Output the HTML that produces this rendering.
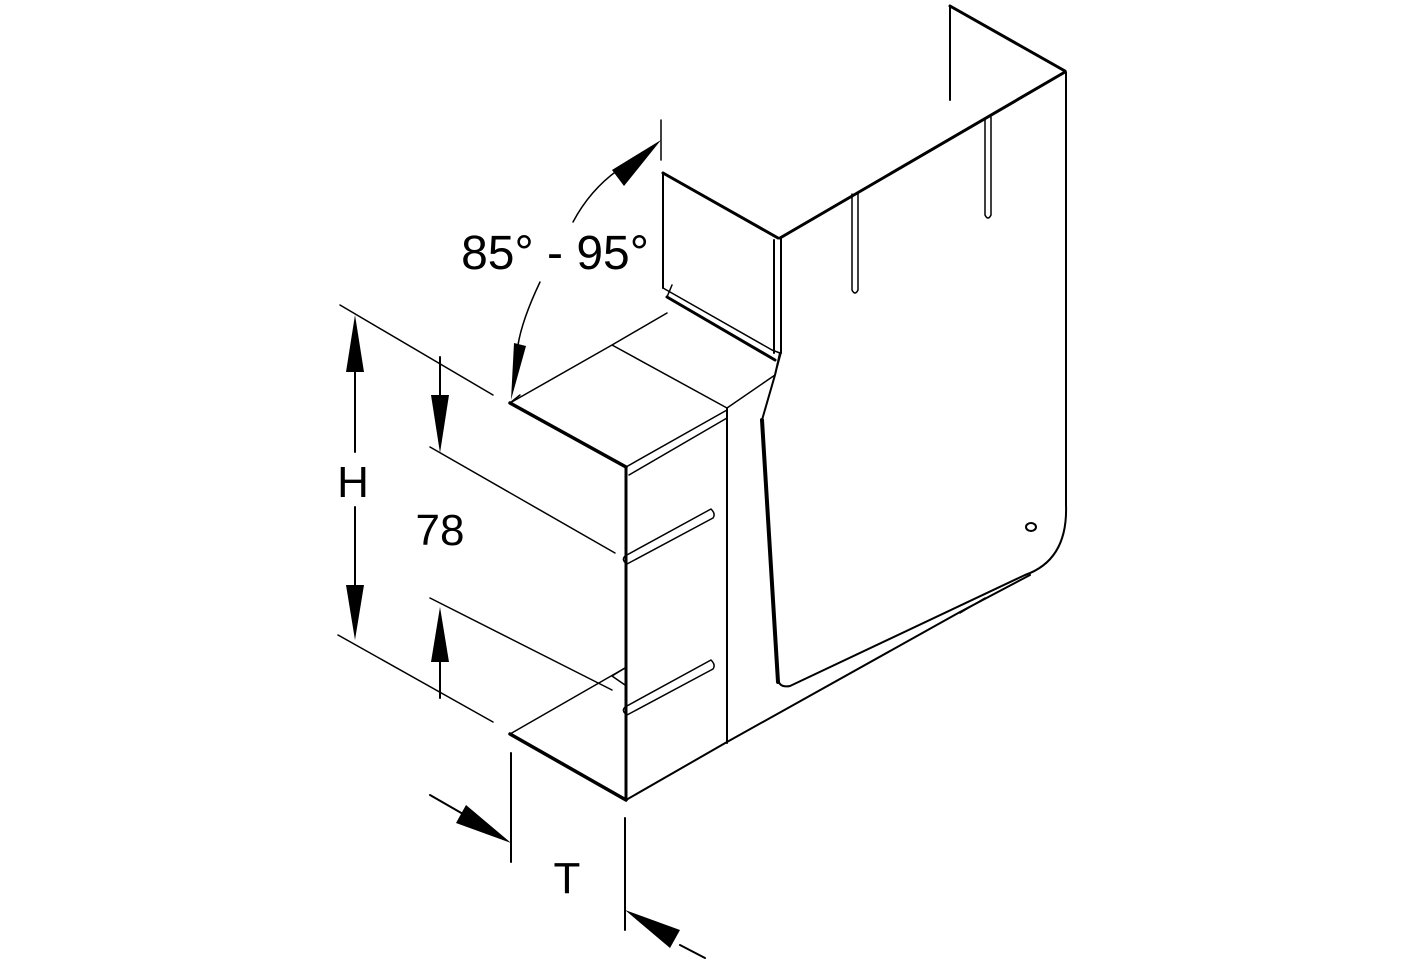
<!DOCTYPE html>
<html><head><meta charset="utf-8"><style>
html,body{margin:0;padding:0;background:#fff;}
svg{display:block;}
text{font-family:"Liberation Sans",sans-serif;fill:#000;}
</style></head><body>
<svg width="1417" height="964" viewBox="0 0 1417 964" xmlns="http://www.w3.org/2000/svg">
<g fill="none" stroke="#000" stroke-linejoin="round" stroke-linecap="round">
<path d="M950,6 L950,100" stroke-width="2"/>
<path d="M950,6 L1065,71" stroke-width="3"/>
<path d="M780,238 L1065,72" stroke-width="3"/>
<path d="M1066,72 L1066,505 Q1068,560 1025,575 L790,686 Q780,688 778,680 L762,420 L775,375 L780,353" stroke-width="2"/>
<path d="M762,420 L778,682" stroke-width="4"/>
<path d="M727,742 L960,612 L1030,575" stroke-width="2"/>
<path d="M960,613 L985,598" stroke-width="1.5"/>
<path d="M852,194 L852,290 Q855,296 858,290 L858,192" stroke-width="1.5"/>
<path d="M985,120 L985,215 Q988,221 991,215 L991,117" stroke-width="1.5"/>
<ellipse cx="1031" cy="527" rx="5" ry="4" stroke-width="2"/>
<path d="M663,173 L663,288" stroke-width="2"/>
<path d="M663,173 L778,238" stroke-width="3"/>
<path d="M774,240 L774,353 M781,238 L781,353" stroke-width="2"/>
<path d="M663,288 L772,350 L780,353" stroke-width="1.5"/>
<path d="M667,297 L775,360" stroke-width="3"/>
<path d="M667,297 L672,285 M781,353 L775,375" stroke-width="1.5"/>
<path d="M510,403 L612,345 L667,313 M612,345 L727,408 L775,375" stroke-width="1.5"/>
<path d="M510,403 L626,467" stroke-width="3.5"/>
<path d="M626,467 L727,410 M629,475 L727,418" stroke-width="1.5"/>
<path d="M626,467 L626,800" stroke-width="3"/>
<path d="M727,408 L727,743" stroke-width="2"/>
<path d="M626,800 L727,742" stroke-width="2"/>
<path d="M625,556 L711,509 Q716,514 713,518 L627,564 Q621,560 625,556 Z" stroke-width="1.5"/>
<path d="M625,707 L711,660 Q716,665 713,669 L627,715 Q621,711 625,707 Z" stroke-width="1.5"/>
<path d="M510,734 L626,800" stroke-width="3.5"/>
<path d="M510,734 L625,668" stroke-width="1.5"/>
<path d="M612,676 L625,668 M612,676 L625,685" stroke-width="1.5"/>
<path d="M340,305 L493,395 M338,635 L493,722" stroke-width="1.5"/>
<path d="M355,370 L355,452 M355,507 L355,590" stroke-width="2"/>
<path d="M430,447 L615,553 M430,598 L612,690" stroke-width="1.5"/>
<path d="M440,357 L440,400 M440,660 L440,698" stroke-width="2"/>
<path d="M573,222 Q590,190 618,170" stroke-width="1.5"/>
<path d="M661,120 L661,160" stroke-width="1.5"/>
<path d="M540,282 Q522,320 518,345" stroke-width="1.5"/>
<path d="M510,403 L520,395" stroke-width="1.5"/>
<path d="M511,753 L511,862 M625,818 L625,930" stroke-width="2"/>
<path d="M430,795 L470,818 M680,945 L705,958" stroke-width="2"/>
</g>
<g fill="#000" stroke="none">
<polygon points="355,315 346,372 364,372"/>
<polygon points="355,640 346,585 364,585"/>
<polygon points="440,453 431,395 449,395"/>
<polygon points="440,607 431,662 449,662"/>
<polygon points="661,140 612,170 624,186"/>
<polygon points="511,400 514,343 526,346"/>
<polygon points="511,843 466,805 456,823"/>
<polygon points="625,910 670,948 680,930"/>
</g>
<text x="555" y="269" font-size="48" text-anchor="middle">85° - 95°</text>
<text x="353" y="497" font-size="44" text-anchor="middle">H</text>
<text x="440" y="545" font-size="44" text-anchor="middle">78</text>
<text x="567" y="893" font-size="44" text-anchor="middle">T</text>
</svg>
</body></html>
